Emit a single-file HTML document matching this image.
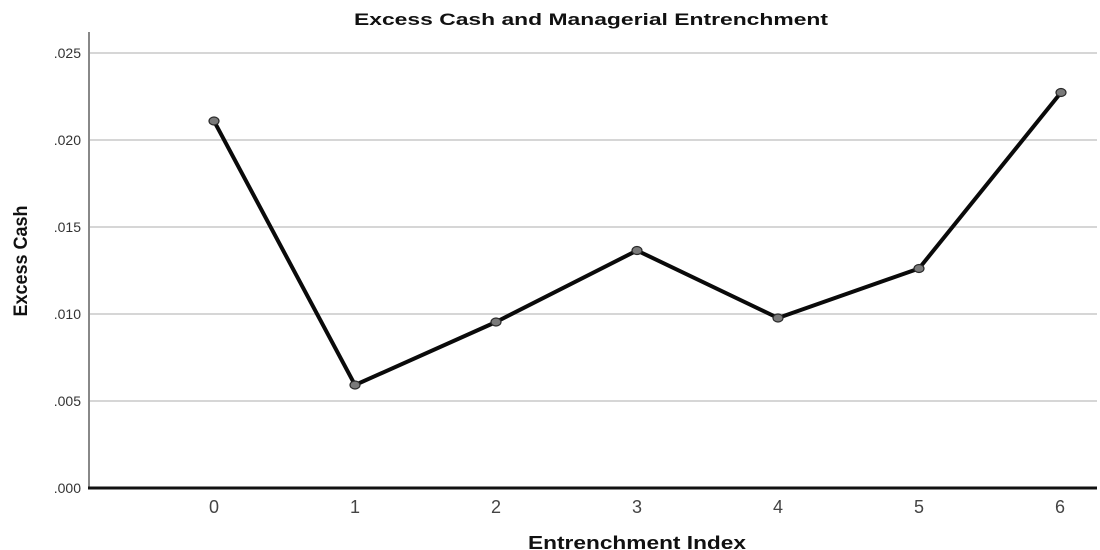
<!DOCTYPE html>
<html>
<head>
<meta charset="utf-8">
<style>
html,body{margin:0;padding:0;background:#fff;}
svg{display:block;}
text{font-family:"Liberation Sans",Arial,sans-serif;}
</style>
</head>
<body>
<svg width="1100" height="550" viewBox="0 0 1100 550" xmlns="http://www.w3.org/2000/svg">
  <rect width="1100" height="550" fill="#fff"/>
  <!-- title -->
  <text x="591" y="25" text-anchor="middle" font-size="17" font-weight="bold" fill="#111" textLength="474" lengthAdjust="spacingAndGlyphs">Excess Cash and Managerial Entrenchment</text>
  <!-- gridlines -->
  <g stroke="#c8c8c8" stroke-width="1.5">
    <line x1="90" y1="53" x2="1097" y2="53"/>
    <line x1="90" y1="140" x2="1097" y2="140"/>
    <line x1="90" y1="227" x2="1097" y2="227"/>
    <line x1="90" y1="314" x2="1097" y2="314"/>
    <line x1="90" y1="401" x2="1097" y2="401"/>
  </g>
  <!-- y axis -->
  <line x1="89" y1="32" x2="89" y2="489" stroke="#888" stroke-width="2"/>
  <!-- x axis -->
  <line x1="88" y1="488" x2="1097" y2="488" stroke="#111" stroke-width="3"/>
  <!-- y tick labels -->
  <g font-size="14" fill="#333" text-anchor="end">
    <text x="81" y="58">.025</text>
    <text x="81" y="145">.020</text>
    <text x="81" y="232">.015</text>
    <text x="81" y="319">.010</text>
    <text x="81" y="406">.005</text>
    <text x="81" y="493">.000</text>
  </g>
  <!-- x tick labels -->
  <g font-size="18" fill="#444" text-anchor="middle">
    <text x="214" y="513">0</text>
    <text x="355" y="513">1</text>
    <text x="496" y="513">2</text>
    <text x="637" y="513">3</text>
    <text x="778" y="513">4</text>
    <text x="919" y="513">5</text>
    <text x="1060" y="513">6</text>
  </g>
  <!-- axis labels -->
  <text x="637" y="549" text-anchor="middle" font-size="18" font-weight="bold" fill="#111" textLength="218" lengthAdjust="spacingAndGlyphs">Entrenchment Index</text>
  <text transform="translate(27,261) rotate(-90)" text-anchor="middle" font-size="19" font-weight="bold" fill="#111" textLength="111" lengthAdjust="spacingAndGlyphs">Excess Cash</text>
  <!-- series -->
  <polyline points="214,121 355,385 496,322 637,250.5 778,318 919,268.5 1061,92.5" fill="none" stroke="#0a0a0a" stroke-width="4" stroke-linejoin="round"/>
  <g fill="#7a7a7a" stroke="#2a2a2a" stroke-width="1.2">
    <ellipse cx="214" cy="121" rx="5" ry="4"/>
    <ellipse cx="355" cy="385" rx="5" ry="4"/>
    <ellipse cx="496" cy="322" rx="5" ry="4"/>
    <ellipse cx="637" cy="250.5" rx="5" ry="4"/>
    <ellipse cx="778" cy="318" rx="5" ry="4"/>
    <ellipse cx="919" cy="268.5" rx="5" ry="4"/>
    <ellipse cx="1061" cy="92.5" rx="5" ry="4"/>
  </g>
</svg>
</body>
</html>
